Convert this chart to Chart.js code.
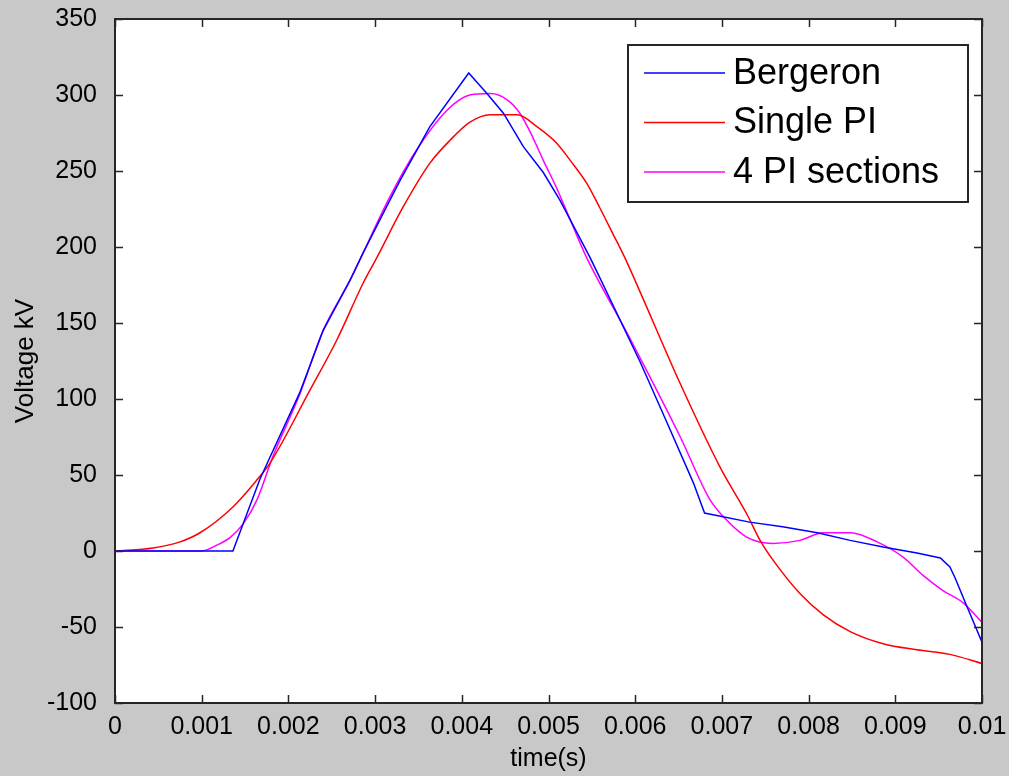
<!DOCTYPE html>
<html lang="en">
<head>
    <meta charset="UTF-8">
    <title>Voltage kV vs time</title>
    <script src="https://cdn.jsdelivr.net/npm/chart.js"></script>
    <style>
        body { margin: 0; background: #c8c8c8; }
        canvas { display: block; }
    </style>
</head>
<body>
    <canvas id="myChart" width="1009" height="776"></canvas>
    <script>
        // Series (time in s, voltage in kV)
        const seriesNames = ['Bergeron', 'Single PI', '4 PI sections'];
        const seriesColors = ['#0000ff', '#ff0000', '#ff00ff'];

        const bergeronT = [0, 0.00136, 0.00167, 0.00179, 0.00213, 0.0024, 0.00271, 0.00286, 0.00319, 0.00329, 0.00363, 0.00408,
            0.00429, 0.00448, 0.00471, 0.00494, 0.00513, 0.00548, 0.00559, 0.00606, 0.00637, 0.00667, 0.0068,
            0.00732, 0.0077, 0.0081, 0.00848, 0.00886, 0.00925, 0.00952, 0.00963, 0.00969, 0.00983, 0.01];
        const bergeronV = [0, 0, 47, 62, 104, 145, 178, 196, 233, 244, 279, 314.5,
            301, 288, 266, 249, 231, 193, 180, 124, 84, 45, 25,
            19, 16, 12, 7, 2.6, -1.3, -4.6, -10.5, -17.8, -37, -60];

        const singlePiT = [0, 0.00044, 0.00075, 0.00098, 0.00136, 0.00164, 0.00179, 0.00225, 0.00256, 0.00286, 0.00302,
            0.00332, 0.00363, 0.00386, 0.00409, 0.00433, 0.00464, 0.00487, 0.0051, 0.00525, 0.00544, 0.00559,
            0.00574, 0.00588, 0.00606, 0.00652, 0.00698, 0.00729, 0.00744, 0.00759, 0.0079, 0.00817, 0.00848,
            0.00886, 0.00925, 0.00963, 0.01];
        const singlePiV = [0, 2, 6, 12, 29, 47, 58, 106, 139, 176, 193,
            226, 255, 270, 282, 287, 287, 279, 268, 257, 242, 226,
            209, 193, 170, 110, 55, 24, 7, -6, -28, -42, -53,
            -61, -65, -68, -74];

        const fourPiT = [0, 0.001, 0.00118, 0.00133, 0.00148, 0.00164, 0.00182, 0.00213, 0.0024, 0.00271, 0.00317, 0.00348,
            0.00383, 0.00409, 0.00433, 0.00452, 0.00467, 0.00482, 0.00494, 0.0051, 0.00525, 0.00544, 0.00591,
            0.00652, 0.00686, 0.00706, 0.00729, 0.00759, 0.0079, 0.00817, 0.00848, 0.00879, 0.00909, 0.00932,
            0.00955, 0.00978, 0.01];
        const fourPiV = [0, 0, 4, 9, 18, 34, 62, 103, 145, 178, 233, 264,
            290, 300, 301, 297, 288, 272, 257, 238, 218, 193, 143,
            75, 34, 20, 9, 5, 7, 12, 12, 6, -4, -16,
            -26, -34, -47];

        const xTicks = [0, 0.001, 0.002, 0.003, 0.004, 0.005, 0.006, 0.007, 0.008, 0.009, 0.01];
        const yTicks = [-100, -50, 0, 50, 100, 150, 200, 250, 300, 350];

        const toPoints = (ts, vs) => ts.map((t, i) => ({ x: t, y: vs[i] }));
        const seriesData = [
            toPoints(bergeronT, bergeronV),
            toPoints(singlePiT, singlePiV),
            toPoints(fourPiT, fourPiV)
        ];

        const FONT = '"Liberation Sans", Arial, sans-serif';

        // Matlab-like box, inward ticks on every side, legend inside the axes
        const boxPlugin = {
            id: 'box',
            beforeDraw(chart) {
                const { ctx, chartArea: a } = chart;
                ctx.save();
                ctx.fillStyle = '#ffffff';
                ctx.fillRect(a.left, a.top, a.right - a.left, a.bottom - a.top);
                ctx.restore();
            },
            afterDraw(chart) {
                const { ctx, chartArea: a, scales } = chart;
                const len = 8;
                ctx.save();
                ctx.strokeStyle = '#262626';
                ctx.lineWidth = 1.5;
                ctx.beginPath();
                xTicks.forEach(v => {
                    const px = Math.round(scales.x.getPixelForValue(v)) + 0.5;
                    ctx.moveTo(px, a.bottom); ctx.lineTo(px, a.bottom - len);
                    ctx.moveTo(px, a.top); ctx.lineTo(px, a.top + len);
                });
                yTicks.forEach(v => {
                    const py = Math.round(scales.y.getPixelForValue(v)) + 0.5;
                    ctx.moveTo(a.left, py); ctx.lineTo(a.left + len, py);
                    ctx.moveTo(a.right, py); ctx.lineTo(a.right - len, py);
                });
                ctx.stroke();
                ctx.lineWidth = 2;
                ctx.strokeRect(a.left, a.top, a.right - a.left, a.bottom - a.top);

                // legend
                const lx = a.right - 354, ly = a.top + 26, lw = 340, lh = 157;
                ctx.fillStyle = '#ffffff';
                ctx.fillRect(lx, ly, lw, lh);
                ctx.strokeStyle = '#262626';
                ctx.lineWidth = 2;
                ctx.strokeRect(lx, ly, lw, lh);
                ctx.font = '36px ' + FONT;
                ctx.textBaseline = 'middle';
                chart.data.datasets.forEach((ds, i) => {
                    const y = ly + 28 + i * 49.5;
                    ctx.strokeStyle = ds.borderColor;
                    ctx.lineWidth = 1.5;
                    ctx.beginPath();
                    ctx.moveTo(lx + 16, y);
                    ctx.lineTo(lx + 97, y);
                    ctx.stroke();
                    ctx.fillStyle = '#000000';
                    ctx.fillText(ds.label, lx + 105, y + 1);
                });
                ctx.restore();
            }
        };

        const ctx = document.getElementById('myChart').getContext('2d');
        const chart = new Chart(ctx, {
            type: 'line',
            data: {
                datasets: seriesNames.map((name, i) => ({
                    label: name,
                    data: seriesData[i],
                    borderColor: seriesColors[i],
                    borderWidth: 1.5,
                    pointRadius: 0,
                    fill: false,
                    tension: 0,
                    cubicInterpolationMode: i === 0 ? 'default' : 'monotone'
                }))
            },
            options: {
                responsive: false,
                animation: false,
                layout: { padding: { top: 19, right: 27, left: 0, bottom: 0 } },
                plugins: {
                    legend: { display: false },
                    tooltip: { enabled: false }
                },
                scales: {
                    x: {
                        type: 'linear',
                        min: 0,
                        max: 0.01,
                        afterBuildTicks: s => { s.ticks = xTicks.map(v => ({ value: v })); },
                        afterFit: s => { s.height = 73; s.paddingLeft = 0; s.paddingRight = 0; },
                        grid: { display: false },
                        border: { display: false },
                        ticks: {
                            autoSkip: false,
                            maxRotation: 0,
                            padding: 1,
                            color: '#000000',
                            font: { family: FONT, size: 25 },
                            callback: v => String(parseFloat(v.toFixed(4)))
                        },
                        title: {
                            display: true,
                            text: 'time(s)',
                            color: '#000000',
                            padding: { top: 0, bottom: 2 },
                            font: { family: FONT, size: 25 }
                        }
                    },
                    y: {
                        type: 'linear',
                        min: -100,
                        max: 350,
                        afterBuildTicks: s => { s.ticks = yTicks.map(v => ({ value: v })); },
                        afterFit: s => { s.width = 115; s.paddingTop = 0; s.paddingBottom = 0; },
                        grid: { display: false },
                        border: { display: false },
                        ticks: {
                            padding: 10,
                            color: '#000000',
                            font: { family: FONT, size: 25 }
                        },
                        title: {
                            display: true,
                            text: 'Voltage kV',
                            color: '#000000',
                            padding: { top: 10, bottom: 0 },
                            font: { family: FONT, size: 26 }
                        }
                    }
                }
            },
            plugins: [boxPlugin]
        });
    </script>
</body>
</html>
